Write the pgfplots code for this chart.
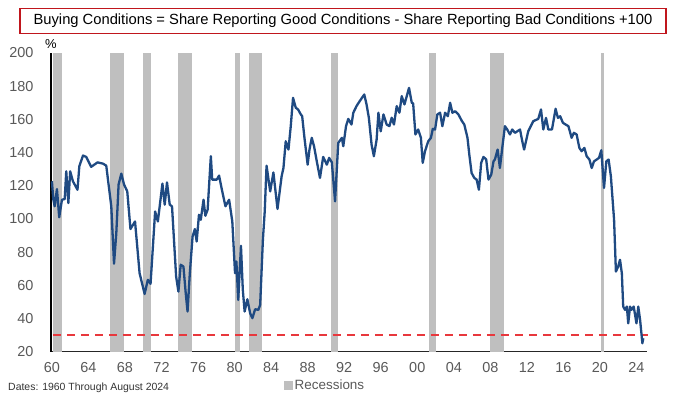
\documentclass[border=0pt]{standalone}
\usepackage{pgfplots}
\pgfplotsset{compat=1.18}
\usepackage{fontspec}
\setmainfont{Liberation Sans}
\definecolor{linecol}{HTML}{1F4A82}
\definecolor{recgray}{HTML}{BFBFBF}
\definecolor{tickgray}{HTML}{595959}
\definecolor{dashred}{HTML}{E8383D}
\definecolor{boxred}{HTML}{C0161D}
\begin{document}
\begin{tikzpicture}
\useasboundingbox (0,0) rectangle (700bp,394bp);
\begin{axis}[
  at={(51bp,42.3bp)}, anchor=south west,
  scale only axis, width=595.5bp, height=298.7bp,
  xmin=1959.9, xmax=2025.1, ymin=20, ymax=200,
  axis x line*=bottom, axis y line*=left,
  x axis line style={-, line width=1.3bp, draw=black!85},
  y axis line style={-, line width=1.3bp, draw=black},
  major tick length=0pt,
  xtick={1960,1964,...,2024},
  xticklabels={60,64,68,72,76,80,84,88,92,96,00,04,08,12,16,20,24},
  ytick={20,40,...,200},
  /pgf/number format/assume math mode=true,
  tick label style={font=\fontsize{14.5}{16}\selectfont, text=tickgray},
  yticklabel style={xshift=-14bp},
  xticklabel style={yshift=-7bp},
  clip=false,
  legend style={at={(0.46,-0.112)}, anchor=center, draw=none, fill=none,
    font=\fontsize{13.5}{15}\selectfont, text=tickgray, inner sep=0pt},
  legend image code/.code={\fill[recgray] (0bp,-4.5bp) rectangle (9bp,4.5bp);},
]
% recession bars
\addplot[fill=recgray, draw=none] coordinates {(1960.15,20) (1960.15,200) (1961.1,200) (1961.1,20)};
\addlegendentry{Recessions}
\addplot[fill=recgray, draw=none, forget plot] coordinates {(1966.4,20) (1966.4,200) (1967.9,200) (1967.9,20)};
\addplot[fill=recgray, draw=none, forget plot] coordinates {(1969.97,20) (1969.97,200) (1970.9,200) (1970.9,20)};
\addplot[fill=recgray, draw=none, forget plot] coordinates {(1973.8,20) (1973.8,200) (1975.3,200) (1975.3,20)};
\addplot[fill=recgray, draw=none, forget plot] coordinates {(1980.1,20) (1980.1,200) (1980.6,200) (1980.6,20)};
\addplot[fill=recgray, draw=none, forget plot] coordinates {(1981.6,20) (1981.6,200) (1982.97,200) (1982.97,20)};
\addplot[fill=recgray, draw=none, forget plot] coordinates {(1990.6,20) (1990.6,200) (1991.3,200) (1991.3,20)};
\addplot[fill=recgray, draw=none, forget plot] coordinates {(2001.26,20) (2001.26,200) (2002.0,200) (2002.0,20)};
\addplot[fill=recgray, draw=none, forget plot] coordinates {(2007.97,20) (2007.97,200) (2009.5,200) (2009.5,20)};
\addplot[fill=recgray, draw=none, forget plot] coordinates {(2020.12,20) (2020.12,200) (2020.48,200) (2020.48,20)};
% threshold
\addplot[dashred, line width=1.8bp, dash pattern=on 8bp off 6bp, forget plot] coordinates {(1960.1,30) (2025.3,30)};
% series
\addplot[linecol, line width=2.3bp, line join=round, forget plot] coordinates {
(1960.0,122.7) (1960.15,112) (1960.3,107.6) (1960.55,118) (1960.8,101)
(1961.1,111.6) (1961.4,112) (1961.57,128.7) (1961.8,109.6) (1962.0,128.7)
(1962.3,122.7) (1962.8,117.6) (1963.0,131.7) (1963.4,138.2) (1963.75,137.4)
(1964.3,131.4) (1965.0,134.1) (1965.6,133.3) (1965.95,132.1) (1966.5,107.6)
(1966.8,73) (1967.05,91.5) (1967.3,120.7) (1967.6,127.3) (1967.9,120.7)
(1968.25,116.6) (1968.6,93.9) (1969.1,98.5) (1969.6,67.3) (1970.15,54.8)
(1970.5,63.3) (1970.8,60.9) (1971.3,104.5) (1971.6,98.5) (1972.1,121.3)
(1972.35,108.6) (1972.6,122) (1972.9,108.6) (1973.15,107.6) (1973.3,93.5)
(1973.6,65.3) (1973.85,56.2) (1974.1,72.4) (1974.4,71.3) (1974.65,55.3)
(1974.85,44.2) (1975.1,67.3) (1975.4,89.4) (1975.65,93.9) (1975.85,86.4)
(1976.1,102.5) (1976.3,99.5) (1976.6,111.6) (1976.8,101.9) (1977.05,105.6)
(1977.4,137.8) (1977.55,123.7) (1978.05,123.7) (1978.3,126.1) (1978.65,116.6)
(1979.0,107.6) (1979.4,111.6) (1979.75,98.5) (1980.05,67.3) (1980.2,74.3)
(1980.4,51.2) (1980.7,83.8) (1980.9,57.3) (1981.1,44.2) (1981.4,51.6)
(1981.7,43.2) (1981.95,40.2) (1982.25,45.6) (1982.6,45.2) (1982.8,48.2)
(1983.1,87.5) (1983.3,104.5) (1983.5,132.1) (1983.9,116.6) (1984.25,128)
(1984.7,106) (1985.15,125.7) (1985.35,130.7) (1985.6,146.8) (1985.9,141.8)
(1986.15,155.9) (1986.4,173) (1986.7,167) (1986.95,166) (1987.25,163)
(1987.4,161.9) (1987.65,148.9) (1988.0,132.7) (1988.2,141.8) (1988.45,148.9)
(1988.7,143.8) (1989.0,134.7) (1989.35,124.7) (1989.7,137.4) (1990.1,132.7)
(1990.35,136.8) (1990.65,134.1) (1991.0,110.6) (1991.35,145.8) (1991.75,148.9)
(1991.9,143.8) (1992.2,155.9) (1992.45,160.3) (1992.8,156.9) (1993.0,164)
(1993.35,168) (1993.7,171) (1994.2,175) (1994.45,169) (1994.7,161)
(1995.0,144.8) (1995.25,137.8) (1995.55,147.8) (1995.75,164) (1996.0,152.8)
(1996.3,163) (1996.65,156.9) (1996.95,155.9) (1997.2,161) (1997.45,156.9)
(1997.75,168) (1998.05,164) (1998.3,174) (1998.6,169) (1998.85,174)
(1999.1,179) (1999.4,170) (1999.55,169.6) (1999.8,150.9) (2000.1,153.9)
(2000.4,148.9) (2000.6,133.8) (2000.85,140.8) (2001.2,146.8) (2001.5,148.9)
(2001.7,154.3) (2001.95,153.9) (2002.2,163) (2002.5,164) (2002.75,155.9)
(2003.05,164) (2003.35,161.9) (2003.6,170) (2003.85,164) (2004.15,164.9)
(2004.5,163) (2004.9,158.9) (2005.15,156.9) (2005.5,148.9) (2005.7,138.8)
(2005.95,127.7) (2006.25,124.7) (2006.5,123.7) (2006.75,117.6) (2007.0,133.8)
(2007.25,137.4) (2007.55,135.8) (2007.8,123.7) (2008.1,126.7) (2008.35,134.7)
(2008.5,135.8) (2008.8,141.8) (2009.05,130.7) (2009.35,144.8) (2009.6,155.9)
(2009.85,153.9) (2010.15,150.9) (2010.4,153.9) (2010.7,151.9) (2011.25,153.9)
(2011.5,146.8) (2011.7,141.8) (2012.15,152.8) (2012.7,158.9) (2013.25,160.3)
(2013.55,166) (2013.8,153.9) (2014.1,160.9) (2014.35,153.9) (2014.75,153.9)
(2015.15,166.4) (2015.4,160.9) (2015.65,161.9) (2015.95,157.9) (2016.55,155.9)
(2016.9,148.9) (2017.15,151.9) (2017.45,150.9) (2017.75,142.8) (2018.0,140.8)
(2018.3,142.8) (2018.55,137.8) (2018.85,135.8) (2019.1,130.7) (2019.35,134.7)
(2019.65,135.8) (2019.9,136.8) (2020.15,141.4) (2020.45,118.7) (2020.7,134.7)
(2020.95,135.8) (2021.2,125.7) (2021.55,99.5) (2021.75,68.3) (2022.0,71.3)
(2022.2,75.4) (2022.4,67.3) (2022.55,47.2) (2022.75,45.2) (2022.95,47.2)
(2023.1,37.1) (2023.3,47.2) (2023.45,45.2) (2023.7,47.2) (2024.0,37.1)
(2024.2,47.2) (2024.4,39.1) (2024.65,25.1) (2024.75,28.1)
};
\node[anchor=south, font=\fontsize{13}{15}\selectfont, text=black, inner sep=0pt] at (rel axis cs:0,1) [yshift=4bp] {\%};
\end{axis}
\node[draw=boxred, line width=1.5bp, fill=white, minimum width=646bp, minimum height=25bp, inner sep=0pt,
  font=\fontsize{14.8}{17}\selectfont] at (343bp,373bp) {Buying Conditions = Share Reporting Good Conditions - Share Reporting Bad Conditions +100};
\node[anchor=south west, inner sep=0pt, font=\fontsize{10.5}{12}\selectfont, text=black!80] at (8bp,1bp) {Dates: 1960 Through August 2024};
\end{tikzpicture}
\end{document}
